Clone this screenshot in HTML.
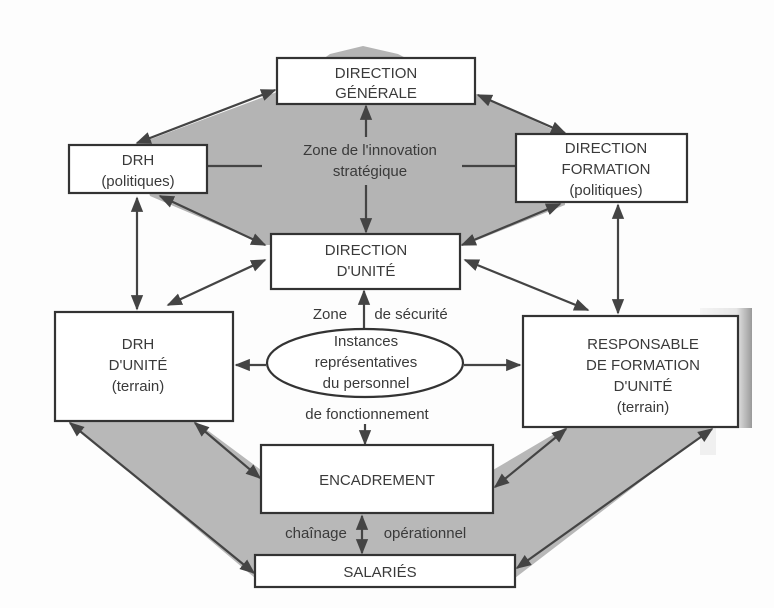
<!DOCTYPE html>
<html><head><meta charset="utf-8"><style>
html,body{margin:0;padding:0;background:#fff}
svg{display:block}
text{font-family:"Liberation Sans",sans-serif;fill:#3a3a3a;font-size:15px}
</style></head><body>
<svg width="774" height="608" viewBox="0 0 774 608" xmlns="http://www.w3.org/2000/svg">
<defs>
<marker id="a" viewBox="0 0 10 10" refX="9" refY="5" markerWidth="7" markerHeight="7" orient="auto-start-reverse"><path d="M0,1 L10,5 L0,9 z" fill="#444"/></marker>
<linearGradient id="g" x1="0" x2="1"><stop offset="0" stop-color="#f4f4f4"/><stop offset="0.7" stop-color="#e6e6e6"/><stop offset="1" stop-color="#9a9a9a"/></linearGradient>
</defs>
<rect width="774" height="608" fill="#fdfdfd"/>
<!-- right scanned patch -->
<rect x="700" y="308" width="52" height="120" fill="url(#g)"/>
<rect x="700" y="427" width="16" height="28" fill="#f0f0f0"/>
<!-- top shaded hexagon -->
<polygon points="330,54 363,46 398,54 478,95 565,135 565,205 465,245 265,245 150,196 135,145 277,92" fill="#b4b4b4"/>
<!-- bottom shade -->
<polygon points="68,421 195,421 261,470 493,470 566,427 712,427 515,578 255,578" fill="#b8b8b8"/>
<!-- connectors -->
<g stroke="#444" stroke-width="2.2" fill="none">
<line x1="275" y1="90" x2="137" y2="143" marker-start="url(#a)" marker-end="url(#a)"/>
<line x1="478" y1="95" x2="565" y2="133" marker-start="url(#a)" marker-end="url(#a)"/>
<line x1="160" y1="196" x2="265" y2="245" marker-start="url(#a)" marker-end="url(#a)"/>
<line x1="462" y1="245" x2="560" y2="204" marker-start="url(#a)" marker-end="url(#a)"/>
<line x1="207" y1="166" x2="262" y2="166"/>
<line x1="462" y1="166" x2="516" y2="166"/>
<line x1="366" y1="137" x2="366" y2="106" marker-end="url(#a)"/>
<line x1="366" y1="185" x2="366" y2="232" marker-end="url(#a)"/>
<line x1="137" y1="198" x2="137" y2="309" marker-start="url(#a)" marker-end="url(#a)"/>
<line x1="618" y1="205" x2="618" y2="313" marker-start="url(#a)" marker-end="url(#a)"/>
<line x1="265" y1="260" x2="168" y2="305" marker-start="url(#a)" marker-end="url(#a)"/>
<line x1="465" y1="260" x2="588" y2="310" marker-start="url(#a)" marker-end="url(#a)"/>
<line x1="364" y1="330" x2="364" y2="291" marker-end="url(#a)"/>
<line x1="266" y1="365" x2="236" y2="365" marker-end="url(#a)"/>
<line x1="464" y1="365" x2="520" y2="365" marker-end="url(#a)"/>
<line x1="365" y1="424" x2="365" y2="444" marker-end="url(#a)"/>
<line x1="362" y1="516" x2="362" y2="553" marker-start="url(#a)" marker-end="url(#a)"/>
<line x1="70" y1="423" x2="254" y2="573" marker-start="url(#a)" marker-end="url(#a)"/>
<line x1="195" y1="423" x2="260" y2="478" marker-start="url(#a)" marker-end="url(#a)"/>
<line x1="566" y1="429" x2="495" y2="487" marker-start="url(#a)" marker-end="url(#a)"/>
<line x1="712" y1="429" x2="517" y2="568" marker-start="url(#a)" marker-end="url(#a)"/>
</g>
<!-- boxes -->
<g fill="#fff" stroke="#333" stroke-width="2.2">
<rect x="277" y="58" width="198" height="46"/>
<rect x="69" y="145" width="138" height="48"/>
<rect x="516" y="134" width="171" height="68"/>
<rect x="271" y="234" width="189" height="55"/>
<rect x="55" y="312" width="178" height="109"/>
<rect x="523" y="316" width="215" height="111"/>
<ellipse cx="365" cy="363" rx="98" ry="34"/>
<rect x="261" y="445" width="232" height="68"/>
<rect x="255" y="555" width="260" height="32"/>
</g>
<g text-anchor="middle">
<text x="376" y="78">DIRECTION</text><text x="376" y="98">GÉNÉRALE</text>
<text x="138" y="165">DRH</text><text x="138" y="186">(politiques)</text>
<text x="370" y="155" fill="#444">Zone de l'innovation</text><text x="370" y="176" fill="#444">stratégique</text>
<text x="606" y="153">DIRECTION</text><text x="606" y="174">FORMATION</text><text x="606" y="195">(politiques)</text>
<text x="366" y="255">DIRECTION</text><text x="366" y="276">D'UNITÉ</text>
<text x="330" y="319">Zone</text><text x="411" y="319">de sécurité</text>
<text x="138" y="349">DRH</text><text x="138" y="370">D'UNITÉ</text><text x="138" y="391">(terrain)</text>
<text x="366" y="346">Instances</text><text x="366" y="367">représentatives</text><text x="366" y="388">du personnel</text>
<text x="643" y="349">RESPONSABLE</text><text x="643" y="370">DE FORMATION</text><text x="643" y="391">D'UNITÉ</text><text x="643" y="412">(terrain)</text>
<text x="367" y="419">de fonctionnement</text>
<text x="377" y="485">ENCADREMENT</text>
<text x="316" y="538">chaînage</text><text x="425" y="538">opérationnel</text>
<text x="380" y="577">SALARIÉS</text>
</g>
</svg>
</body></html>
